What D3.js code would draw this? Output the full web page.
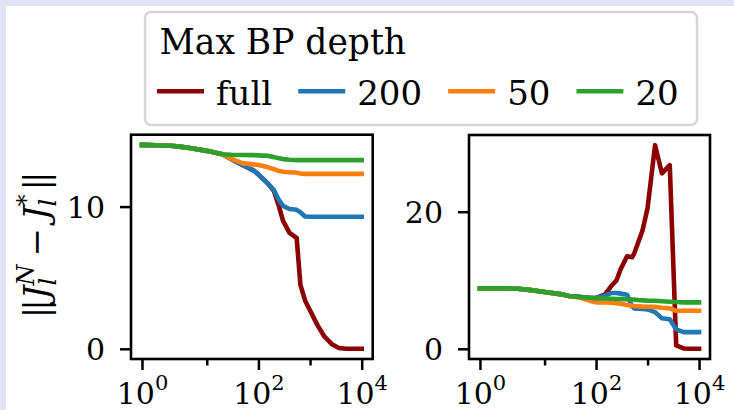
<!DOCTYPE html>
<html>
<head>
<meta charset="utf-8">
<script src="https://cdn.jsdelivr.net/npm/d3@7"></script>
<style>
  body { margin: 0; background: #e1e3f4; }
  svg { display: block; }
</style>
</head>
<body>
<div id="chart"></div>
<script>
// Shared x values (N)
const N = [1, 2, 3, 5, 10, 20, 30, 50, 80, 100, 150, 200, 250, 300, 400, 500, 550, 650, 800, 1000, 1400, 1900, 2700, 3600, 5000, 7000, 10000];

// Left panel series
const leftFull = [14.34, 14.28, 14.22, 14.1, 13.92, 13.68, 13.33, 12.92, 12.55, 12.25, 11.65, 11.1, 10.0, 9.0, 8.15, 7.9, 7.8, 4.5, 3.4, 2.7, 1.65, 0.85, 0.3, 0.06, 0, 0, 0];
const left200 = [14.34, 14.28, 14.22, 14.1, 13.92, 13.68, 13.33, 12.92, 12.55, 12.25, 11.65, 11.15, 10.45, 10.05, 9.83, 9.8, 9.77, 9.6, 9.3, 9.29, 9.29, 9.29, 9.29, 9.29, 9.29, 9.29, 9.29];
const left50 = [14.34, 14.28, 14.22, 14.1, 13.92, 13.68, 13.35, 13.04, 12.97, 12.93, 12.78, 12.63, 12.5, 12.45, 12.42, 12.4, 12.38, 12.33, 12.3, 12.3, 12.3, 12.3, 12.3, 12.3, 12.3, 12.3, 12.3];
const left20 = [14.34, 14.28, 14.22, 14.1, 13.92, 13.68, 13.65, 13.63, 13.62, 13.6, 13.57, 13.48, 13.4, 13.34, 13.3, 13.28, 13.27, 13.27, 13.27, 13.27, 13.27, 13.27, 13.27, 13.27, 13.27, 13.27, 13.27];

// Right panel series
const rightFull = [8.82, 8.82, 8.75, 8.6, 8.3, 7.98, 7.7, 7.55, 7.42, 7.42, 7.95, 9.2, 10.0, 11.6, 13.5, 13.35, 13.9, 15.4, 17.3, 20.5, 29.7, 25.6, 26.8, 0.5, 0.05, 0, 0];
const right200 = [8.82, 8.82, 8.75, 8.6, 8.3, 7.98, 7.7, 7.55, 7.42, 7.42, 7.8, 8.15, 8.15, 8.05, 7.9, 6.2, 5.9, 5.85, 5.8, 5.75, 5.35, 4.45, 4.3, 2.85, 2.43, 2.43, 2.43];
const right50 = [8.82, 8.82, 8.75, 8.6, 8.3, 7.98, 7.7, 7.45, 6.95, 6.78, 6.75, 6.72, 6.65, 6.58, 6.4, 6.28, 6.25, 6.2, 6.15, 6.13, 6.12, 6.0, 5.9, 5.55, 5.55, 5.55, 5.55];
const right20 = [8.82, 8.82, 8.75, 8.6, 8.3, 7.98, 7.7, 7.55, 7.42, 7.36, 7.33, 7.3, 7.27, 7.25, 7.22, 7.2, 7.18, 7.12, 7.07, 7.03, 7.0, 6.93, 6.87, 6.82, 6.78, 6.77, 6.77];

const seriesNames = ["full", "200", "50", "20"];
const seriesColors = ["#8b0000", "#1f77b4", "#ff7f0e", "#2ca02c"];

const xMajorExps = [0, 2, 4];
const xMinorExps = [1, 3];
const leftYTicks = [0, 10];
const rightYTicks = [0, 20];

const width = 734, height = 410;
const font = "DejaVu Serif";

// symmetric log transform (linthresh 2, base 10)
const linthresh = 2, linscaleAdj = 1 / (1 - 1 / 10);
function symlog(v) {
    const a = Math.abs(v);
    if (a <= linthresh) return v * linscaleAdj;
    return Math.sign(v) * linthresh * (linscaleAdj + Math.log10(a / linthresh));
}

const svg = d3.select("#chart").append("svg")
    .attr("width", width)
    .attr("height", height)
    .attr("font-family", font);

svg.append("rect")
    .attr("x", 6).attr("y", 6)
    .attr("width", width - 6).attr("height", height - 6)
    .attr("fill", "white");

function panel(box, series, yTicks, withLabel) {
    const g = svg.append("g");

    const t0 = symlog(N[0]), t1 = symlog(N[N.length - 1]);
    const tPad = (t1 - t0) * 0.05;
    const x = d3.scaleLinear()
        .domain([t0 - tPad, t1 + tPad])
        .range([box.x0, box.x1]);

    const yMax = d3.max(series, s => d3.max(s));
    const yMin = d3.min(series, s => d3.min(s));
    const yPad = (yMax - yMin) * 0.05;
    const y = d3.scaleLinear()
        .domain([yMin - yPad, yMax + yPad])
        .range([box.y1, box.y0]);

    // lines
    const line = d3.line()
        .x((d, i) => x(symlog(N[i])))
        .y(d => y(d));

    series.forEach((s, i) => {
        g.append("path")
            .datum(s)
            .attr("fill", "none")
            .attr("stroke", seriesColors[i])
            .attr("stroke-width", 4.6)
            .attr("stroke-linecap", "square")
            .attr("stroke-linejoin", "round")
            .attr("d", line);
    });

    // x axis major
    const xAxis = d3.axisBottom(x)
        .tickValues(xMajorExps.map(e => symlog(10 ** e)))
        .tickSize(11)
        .tickFormat(() => "");
    const xg = g.append("g")
        .attr("transform", `translate(0, ${box.y1})`)
        .call(xAxis);
    xg.select(".domain").remove();
    xg.selectAll(".tick line").attr("stroke", "black").attr("stroke-width", 2.5);
    xg.selectAll(".tick text")
        .attr("fill", "black")
        .attr("font-family", font)
        .attr("font-size", 30)
        .attr("y", 45)
        .attr("dy", null)
        .each(function (d, i) {
            const t = d3.select(this);
            t.text("10");
            t.append("tspan")
                .attr("font-size", 21)
                .attr("dy", -14)
                .text(xMajorExps[i]);
        });

    // x axis minor
    const xMinor = d3.axisBottom(x)
        .tickValues(xMinorExps.map(e => symlog(10 ** e)))
        .tickSize(6.5)
        .tickFormat("");
    const xmg = g.append("g")
        .attr("transform", `translate(0, ${box.y1})`)
        .call(xMinor);
    xmg.select(".domain").remove();
    xmg.selectAll(".tick line").attr("stroke", "black").attr("stroke-width", 2.5);

    // y axis
    const yAxis = d3.axisLeft(y)
        .tickValues(yTicks)
        .tickSize(11)
        .tickPadding(15);
    const yg = g.append("g")
        .attr("transform", `translate(${box.x0}, 0)`)
        .call(yAxis);
    yg.select(".domain").remove();
    yg.selectAll(".tick line").attr("stroke", "black").attr("stroke-width", 2.5);
    yg.selectAll(".tick text")
        .attr("fill", "black")
        .attr("font-family", font)
        .attr("font-size", 30)
        .attr("dy", "0.36em");

    // frame
    g.append("rect")
        .attr("x", box.x0).attr("y", box.y0)
        .attr("width", box.x1 - box.x0).attr("height", box.y1 - box.y0)
        .attr("fill", "none")
        .attr("stroke", "black")
        .attr("stroke-width", 2.6);

    if (withLabel) {
        // width of the subscript l, to stack the superscript over it
        const probe = svg.append("text")
            .attr("font-size", 24).attr("font-style", "italic").text("l");
        const lw = probe.node().getComputedTextLength();
        probe.remove();

        const lg = svg.append("g")
            .attr("transform", `translate(48, ${(box.y0 + box.y1) / 2}) rotate(-90)`);
        const lab = lg.append("text")
            .attr("text-anchor", "middle")
            .attr("font-size", 34)
            .attr("fill", "black");
        lab.append("tspan").attr("letter-spacing", -4).text("||");
        lab.append("tspan").attr("font-style", "italic").attr("dx", 4).text("J");
        lab.append("tspan").attr("font-style", "italic").attr("font-size", 24).attr("dy", 8).text("l");
        lab.append("tspan").attr("font-style", "italic").attr("font-size", 24).attr("dx", -lw).attr("dy", -22).text("N");
        lab.append("tspan").attr("dy", 14).attr("dx", 8).text("\u2212");
        lab.append("tspan").attr("font-style", "italic").attr("dx", 8).text("J");
        lab.append("tspan").attr("font-style", "italic").attr("font-size", 24).attr("dy", 8).text("l");
        lab.append("tspan").attr("font-size", 24).attr("dx", -lw).attr("dy", -22).text("*");
        lab.append("tspan").attr("dy", 14).attr("dx", 4).attr("letter-spacing", -4).text("||");
    }
}

panel({ x0: 131, x1: 372.7, y0: 134.7, y1: 359 },
    [leftFull, left200, left50, left20], leftYTicks, true);
panel({ x0: 469, x1: 710, y0: 135, y1: 359 },
    [rightFull, right200, right50, right20], rightYTicks, false);

// legend
const legend = svg.append("g");
legend.append("rect")
    .attr("x", 145).attr("y", 12)
    .attr("width", 552).attr("height", 113)
    .attr("rx", 6)
    .attr("fill", "white")
    .attr("stroke", "#d6d6d6")
    .attr("stroke-width", 2.5);
legend.append("text")
    .attr("x", 159.5).attr("y", 53.7)
    .attr("font-size", 34.5)
    .attr("fill", "black")
    .text("Max BP depth");

let lx = 157;
seriesNames.forEach((name, i) => {
    legend.append("line")
        .attr("x1", lx).attr("x2", lx + 47)
        .attr("y1", 91.3).attr("y2", 91.3)
        .attr("stroke", seriesColors[i])
        .attr("stroke-width", 4.6);
    const txt = legend.append("text")
        .attr("x", lx + 47 + 12).attr("y", 104.7)
        .attr("font-size", 34)
        .attr("fill", "black")
        .text(name);
    lx = lx + 47 + 12 + txt.node().getComputedTextLength() + 26;
});
</script>
</body>
</html>
